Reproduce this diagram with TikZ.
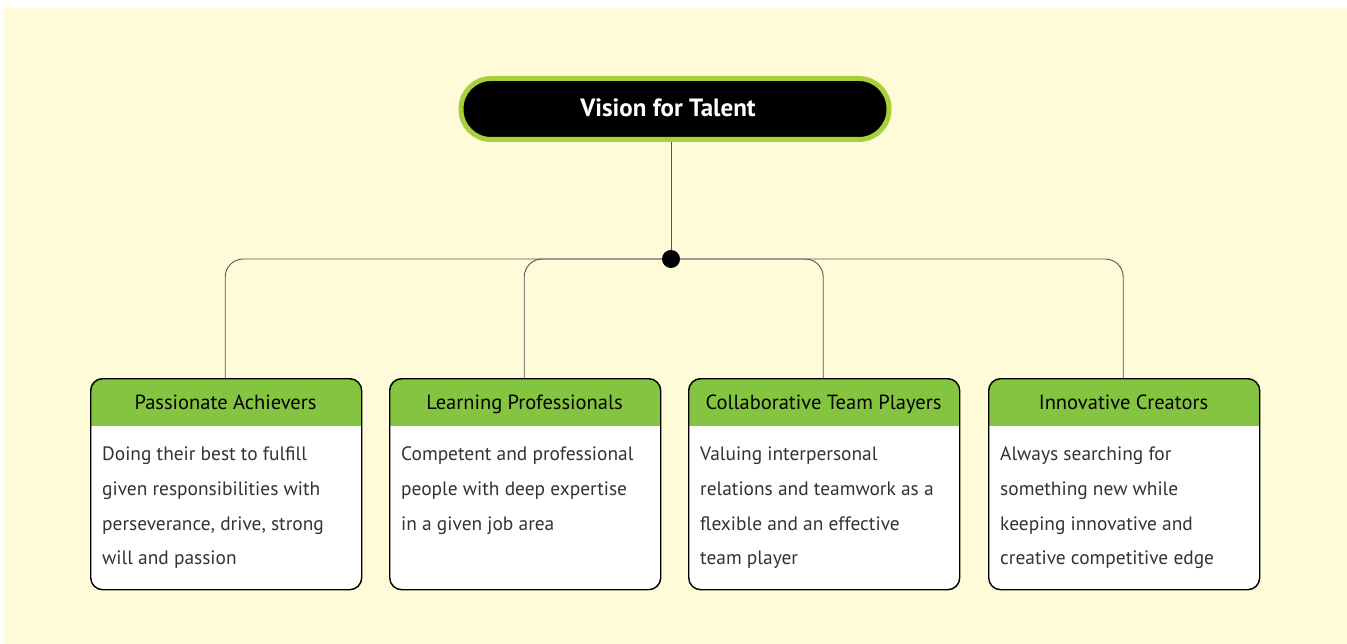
\documentclass[tikz,border=0pt]{standalone}
\usepackage{fontspec}
\setmainfont{PT Sans}
\usetikzlibrary{calc}
\definecolor{bgyellow}{HTML}{FFFBD8}
\definecolor{hdrgreen}{HTML}{85C441}
\definecolor{rootgreen}{HTML}{A8D03C}
\definecolor{bodytext}{HTML}{333333}
\definecolor{linegray}{HTML}{555555}
\tikzset{
  cardframe/.style={draw=black, line width=1.4pt, rounded corners=12pt},
  hdrtext/.style={font=\fontsize{20.5}{24}\selectfont, text=black, anchor=base, inner sep=0pt},
  bodytxt/.style={font=\fontsize{19.4}{34.8}\selectfont, text=bodytext, align=left, anchor=north west, inner sep=0pt},
  branch/.style={draw=linegray, line width=0.9pt, rounded corners=18pt},
}
\newcommand{\card}[5]{% name, left x, header, body, unused
  \begin{scope}
    \clip[rounded corners=12pt] (#2,378) rectangle ++(271,211);
    \fill[white] (#2,378) rectangle ++(271,211);
    \fill[hdrgreen] (#2,378) rectangle ++(271,48);
  \end{scope}
  \node[cardframe, minimum width=271pt, minimum height=211pt, anchor=north west, inner sep=0pt] (#1) at (#2,378) {};
  \node[hdrtext] (#1h) at (#2+135.5,409) {#3};
  \node[bodytxt] (#1b) at (#2+12,446.5) {#4};
}
\begin{document}
\begin{tikzpicture}[x=1pt,y=-1pt]
  \useasboundingbox (0,0) rectangle (1347,644);
  \fill[white] (0,0) rectangle (1347,644);
  \fill[bgyellow] (4,8) rectangle (1347,644);

  % root
  \node[draw=rootgreen, fill=black, line width=5pt, rounded corners=30pt,
        minimum width=428pt, minimum height=61pt, inner sep=0pt] (root) at (675,109) {};
  \node[text=white, font=\bfseries\fontsize{25}{28}\selectfont, anchor=base, inner sep=0pt] (rootlabel) at (668,117) {Vision for Talent};

  \coordinate (hub) at (671,259);

  \card{c1}{90}{Passionate Achievers}{Doing their best to fulfill\\given responsibilities with\\perseverance, drive, strong\\will and passion}{}
  \card{c2}{389}{Learning Professionals}{Competent and professional\\people with deep expertise\\in a given job area}{}
  \card{c3}{688}{Collaborative Team Players}{Valuing interpersonal\\relations and teamwork as a\\flexible and an effective\\team player}{}
  \card{c4}{988}{Innovative Creators}{Always searching for\\something new while\\keeping innovative and\\creative competitive edge}{}

  \draw[draw=linegray, line width=0.9pt] (root.south -| hub) -- (hub);
  \draw[branch] (hub) -| ($(c1.north)+(-1,0)$);
  \draw[branch] (hub) -| ($(c2.north)+(-1,0)$);
  \draw[branch] (hub) -| ($(c3.north)+(-1,0)$);
  \draw[branch] (hub) -| ($(c4.north)+(-1,0)$);
  \fill[black] (hub) circle (9pt);
\end{tikzpicture}
\end{document}
